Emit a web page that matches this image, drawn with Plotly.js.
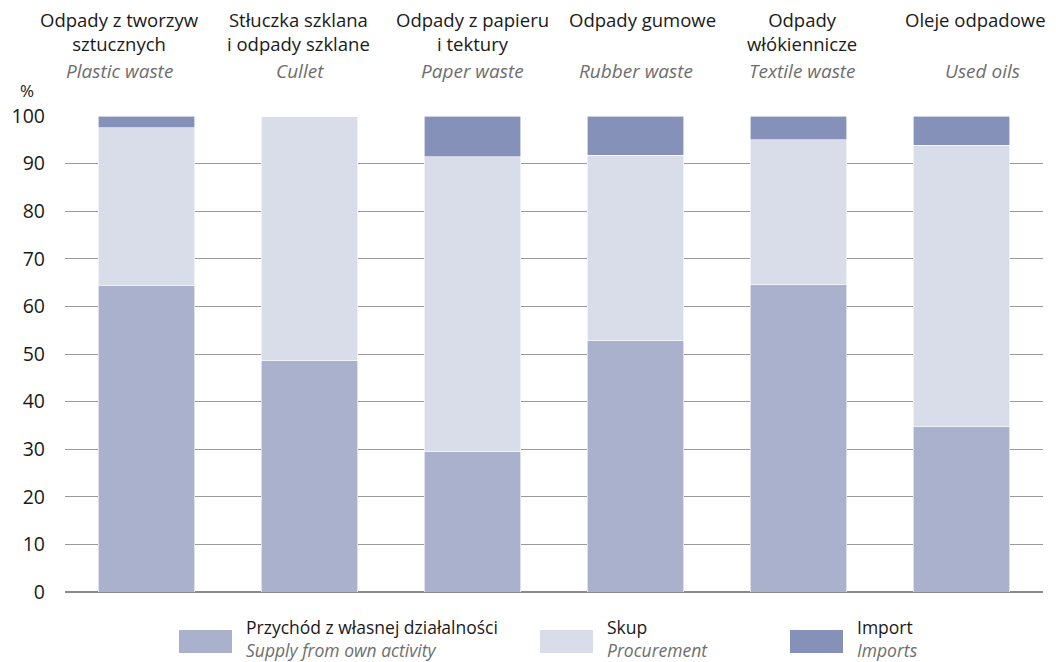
<!DOCTYPE html>
<html>
<head>
<meta charset="utf-8">
<script src="https://cdn.plot.ly/plotly-3.0.1.min.js"></script>
<style>html,body{margin:0;padding:0;background:#fff;}#chart{width:1056px;height:662px;}</style>
</head>
<body>
<div id="chart"></div>
<script>
const categoriesPL = ["Odpady z tworzyw<br>sztucznych", "Stłuczka szklana<br>i odpady szklane", "Odpady z papieru<br>i tektury", "Odpady gumowe", "Odpady<br>włókiennicze", "Oleje odpadowe"];
const categoriesEN = ["Plastic waste", "Cullet", "Paper waste", "Rubber waste", "Textile waste", "Used oils"];
const ownActivity = [64.3, 48.7, 29.6, 52.9, 64.5, 34.7];
const procurement = [33.2, 51.3, 61.8, 38.9, 30.5, 59.2];
const imports = [2.5, 0.0, 8.6, 8.2, 5.0, 6.1];
const seriesPL = ["Przychód z własnej działalności", "Skup", "Import"];
const seriesEN = ["Supply from own activity", "Procurement", "Imports"];
const colors = ["#aab1cd", "#d9dde9", "#8591b9"];
const yTicks = [0, 10, 20, 30, 40, 50, 60, 70, 80, 90, 100];

// layout-only offsets of the header labels (pixels)
const shiftPL = [-27, -11, 0, 7, 3, 14];
const shiftEN = [-27, -10, 0, 0, 4, 21];

const W = 1056, H = 662, M = {l: 65, r: 13, t: 116, b: 70};
const PW = W - M.l - M.r, PH = H - M.t - M.b;
const px = x => (x - M.l) / PW;
const py = y => (H - M.b - y) / PH;

const FONT = "Open Sans, Noto Sans, sans-serif";
const xs = categoriesEN;
const seriesVals = [ownActivity, procurement, imports];
const traces = seriesVals.map((v, i) => ({
  type: "bar", x: xs, y: v, name: seriesPL[i],
  marker: {color: colors[i], line: {color: "#ffffff", width: 0.6}},
  hoverinfo: "y+name", showlegend: false, cliponaxis: false
}));

const annotations = [];
xs.forEach((c, i) => {
  annotations.push({x: c, xref: "x", y: py(5), yref: "paper", yanchor: "top", xanchor: "center",
    xshift: shiftPL[i],
    text: categoriesPL[i], showarrow: false, align: "center",
    font: {family: FONT, size: 18.5, color: "#1a1a1a"}});
  annotations.push({x: c, xref: "x", y: py(71), yref: "paper", yanchor: "middle", xanchor: "center",
    xshift: shiftEN[i],
    text: "<i>" + categoriesEN[i] + "</i>", showarrow: false,
    font: {family: FONT, size: 19, color: "#6e6e6e"}});
});
annotations.push({x: px(27), xref: "paper", y: py(91), yref: "paper", xanchor: "center", yanchor: "middle",
  text: "%", showarrow: false, font: {family: FONT, size: 17, color: "#1a1a1a"}});

const legendX = [179, 540, 790];
const shapes = [];
seriesPL.forEach((s, i) => {
  shapes.push({type: "rect", xref: "paper", yref: "paper",
    x0: px(legendX[i]), x1: px(legendX[i] + 53), y0: py(653), y1: py(630),
    fillcolor: colors[i], line: {width: 0}});
  annotations.push({x: px(legendX[i] + 66), xref: "paper", y: py(638), yref: "paper",
    xanchor: "left", yanchor: "middle", align: "left", showarrow: false, borderpad: 0,
    text: s + "<br><i><span style='color:#6e6e6e'>" + seriesEN[i] + "</span></i>",
    font: {family: FONT, size: 17.5, color: "#1a1a1a"}});
});

const layout = {
  width: W, height: H,
  margin: M,
  paper_bgcolor: "#ffffff", plot_bgcolor: "#ffffff",
  barmode: "stack", bargap: 0.41,
  font: {family: FONT, size: 16, color: "#1a1a1a"},
  xaxis: {range: [-0.5, 5.5], autorange: false, showticklabels: false, showgrid: false, zeroline: false, showline: false, ticks: ""},
  yaxis: {range: [0, 100], autorange: false, tickvals: yTicks, showgrid: true, gridcolor: "#9a9a9a", gridwidth: 1,
    zeroline: true, zerolinecolor: "#8a8a8a", zerolinewidth: 1.2, showline: false, ticks: "",
    ticklabelstandoff: 19, tickfont: {family: FONT, size: 19.5, color: "#1a1a1a"}, fixedrange: true},
  annotations: annotations,
  shapes: shapes,
  showlegend: false
};

Plotly.newPlot("chart", traces, layout, {displayModeBar: false, staticPlot: true});
</script>
</body>
</html>
